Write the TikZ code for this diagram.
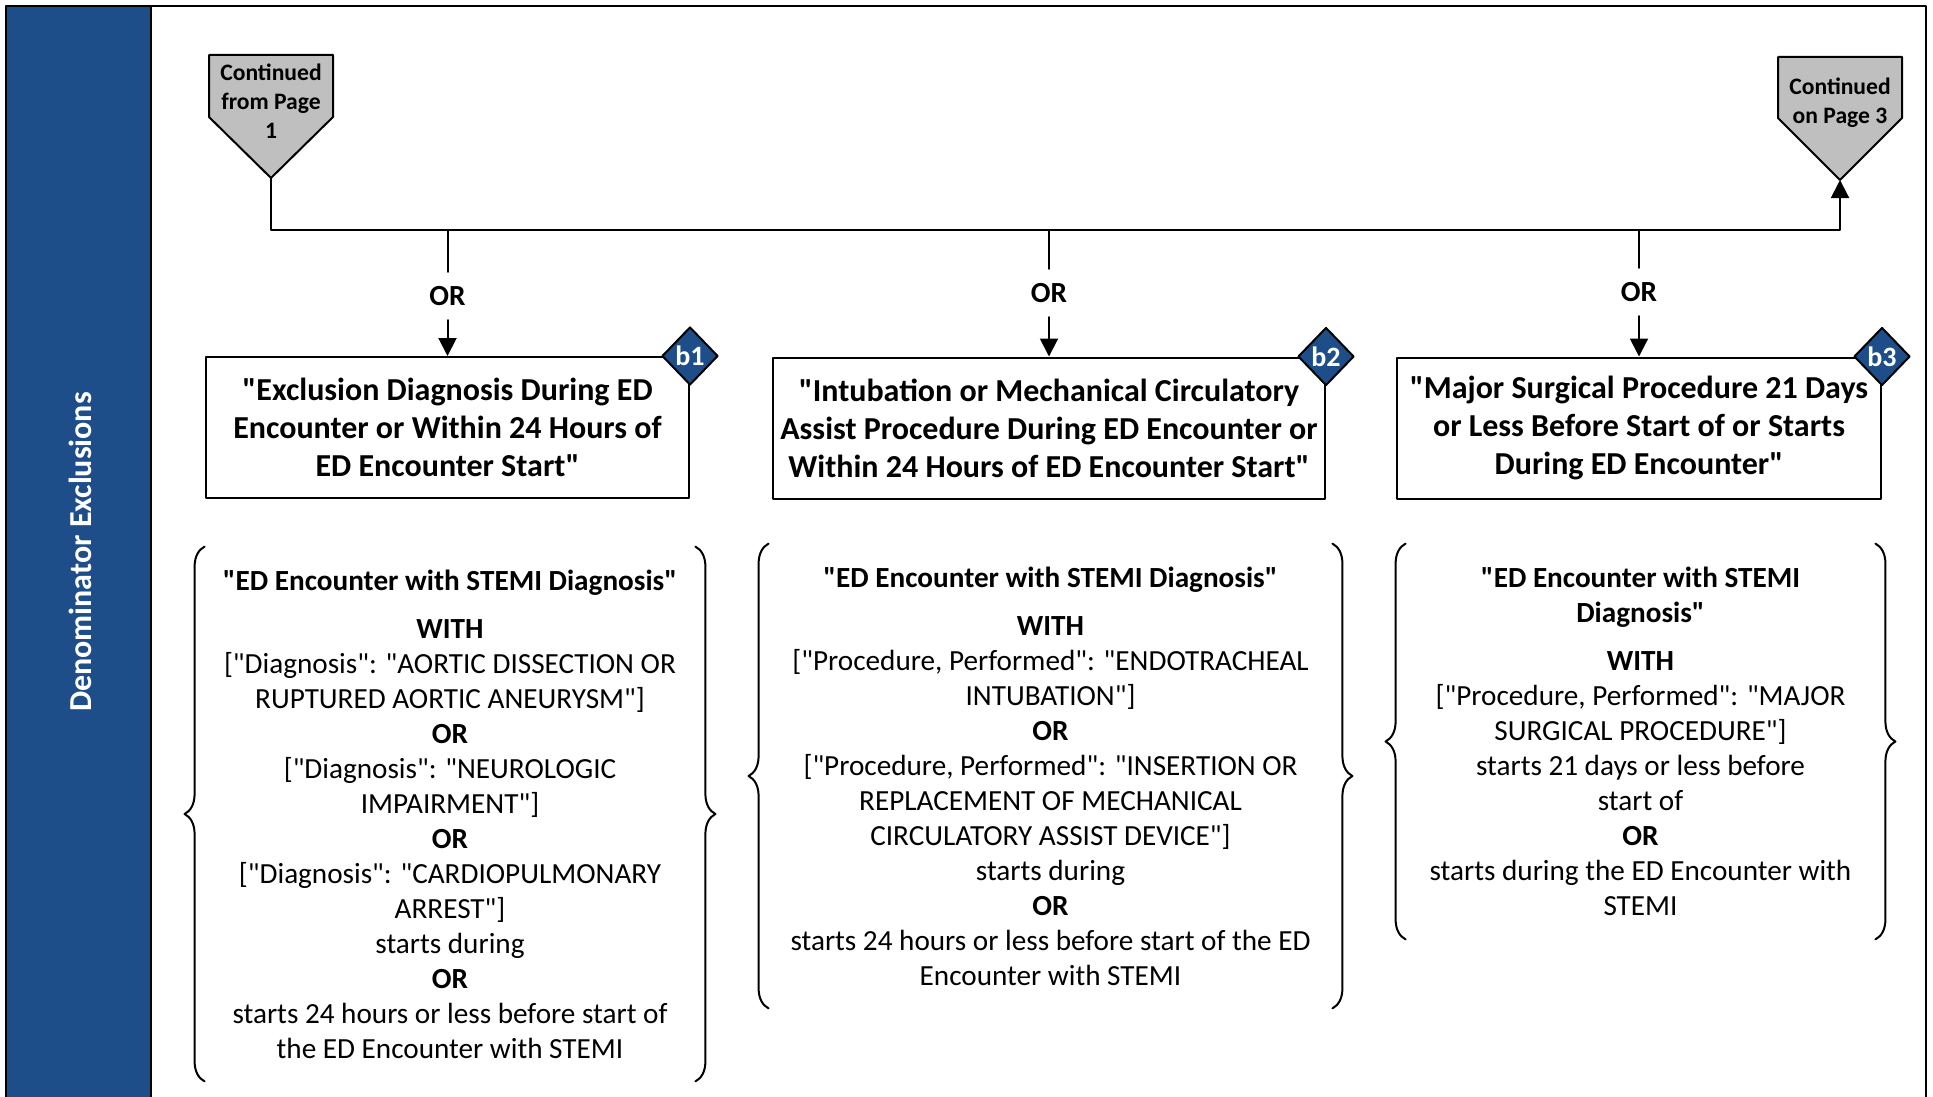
\documentclass[tikz,border=0pt]{standalone}
\usepackage{fontspec}
\setmainfont{Carlito}[Ligatures=TeXOff]
\usetikzlibrary{arrows.meta,shapes.geometric,decorations.pathreplacing}
\definecolor{bandblue}{RGB}{30,78,138}
\definecolor{offgray}{RGB}{191,191,191}
\begin{document}
\begin{tikzpicture}[line cap=round,line join=round,x=.5pt,y=-.5pt,
		>={Triangle[length=9pt,width=9pt]},
		every node/.style={font=\fontsize{14.6}{17.5}\selectfont},
		ortext/.style={font=\fontsize{14.6}{17.5}\selectfont\bfseries,inner ysep=7pt,inner xsep=4pt},
		offpage/.style={draw,line width=1pt,fill=offgray},
		offtext/.style={align=center,font=\fontsize{11.8}{14.5}\selectfont\bfseries},
		critbox/.style={draw,line width=1pt,align=center,minimum height=70.5pt,inner sep=0pt,font=\fontsize{16}{19}\selectfont\bfseries},
		tag/.style={diamond,draw,line width=1pt,fill=bandblue,text=white,inner sep=0pt,minimum width=28pt,minimum height=29pt,font=\fontsize{14}{16}\selectfont\bfseries},
		group/.style={align=center,inner sep=0pt},
		sidebrace/.style={decorate,decoration={brace,amplitude=10pt},line width=1pt}]
		\useasboundingbox (0,0) rectangle (1933,1097);
		\fill[bandblue] (6,6) rectangle (151,1097);
		\draw[line width=1pt] (6,1097) -- (6,6) -- (1926,6) -- (1926,1097);
		\draw[line width=1pt] (151,6) -- (151,1097);
		\node[rotate=90,text=white,font=\fontsize{16}{19}\selectfont\bfseries] (band) at (80,552) {Denominator Exclusions};
		% off-page connectors
		\draw[offpage] (209,55) -- (333,55) -- (333,117) -- (271,178) -- (209,117) -- cycle;
		\node[offtext] (frompg1) at (271,101) {Continued\\from Page\\1};
		\coordinate (fromtip) at (271,178);
		\draw[offpage] (1778,57) -- (1902,57) -- (1902,118) -- (1840,180) -- (1778,118) -- cycle;
		\node[offtext] (onpg3) at (1840,103) {Continued\\on Page 3};
		\coordinate (ontip) at (1840,180);
		\coordinate (barl) at (271,230);
		\coordinate (barr) at (1840,230);
		\draw[->,line width=1pt] (fromtip) -- (barl) -- (barr) -- (ontip);
		% criteria boxes
		\node[critbox,minimum width=241.5pt] (excl) at (447.5,427.5) {"Exclusion Diagnosis During ED\\Encounter or Within 24 Hours of\\ED Encounter Start"};
		\node[critbox,minimum width=276pt] (intub) at (1049,428) {"Intubation or Mechanical Circulatory\\Assist Procedure During ED Encounter or\\Within 24 Hours of ED Encounter Start"};
		\node[critbox,minimum width=242pt] (surg) at (1639,428) {"Major Surgical Procedure 21 Days\\or Less Before Start of or Starts\\During ED Encounter"};
		\node[tag] (b1) at (excl.north east) {b1};
		\node[tag] (b2) at (intub.north east) {b2};
		\node[tag] (b3) at (surg.north east) {b3};
		\node[ortext] (or1) at (447.5,296) {OR};
		\node[ortext] (or2) at (1049,293) {OR};
		\node[ortext] (or3) at (1639,292) {OR};
		\draw[line width=1pt] (excl.north |- barl) -- (or1);
		\draw[line width=1pt] (intub.north |- barl) -- (or2);
		\draw[line width=1pt] (surg.north |- barl) -- (or3);
		\draw[->,line width=1pt] (or1) -- (excl);
		\draw[->,line width=1pt] (or2) -- (intub);
		\draw[->,line width=1pt] (or3) -- (surg);
		% definitions
		\node[group,minimum width=245pt,minimum height=267pt] (def1) at (450,814) {\textbf{"ED Encounter with STEMI Diagnosis"}\\[6.5pt]
			\textbf{WITH}\\ {[}"Diagnosis": "AORTIC DISSECTION OR\\ RUPTURED AORTIC ANEURYSM"]\\ \textbf{OR}\\
			{[}"Diagnosis": "NEUROLOGIC\\ IMPAIRMENT"]\\ \textbf{OR}\\ {[}"Diagnosis": "CARDIOPULMONARY\\ ARREST"]\\
			starts during\\ \textbf{OR}\\ starts 24 hours or less before start of\\ the ED Encounter with STEMI};
		\node[group,minimum width=281.5pt,minimum height=232pt] (def2) at (1050.5,776) {\textbf{"ED Encounter with STEMI Diagnosis"}\\[6.5pt]
			\textbf{WITH}\\ {[}"Procedure, Performed": "ENDOTRACHEAL\\ INTUBATION"]\\ \textbf{OR}\\
			{[}"Procedure, Performed": "INSERTION OR\\ REPLACEMENT OF MECHANICAL\\ CIRCULATORY ASSIST DEVICE"]\\
			starts during\\ \textbf{OR}\\ starts 24 hours or less before start of the ED\\ Encounter with STEMI};
		\node[group,minimum width=234.5pt,minimum height=197.5pt] (def3) at (1640.5,741.5) {\textbf{"ED Encounter with STEMI}\\ \textbf{Diagnosis"}\\[6.5pt]
			\textbf{WITH}\\ {[}"Procedure, Performed": "MAJOR\\ SURGICAL PROCEDURE"]\\ starts 21 days or less before\\ start of\\
			\textbf{OR}\\ starts during the ED Encounter with\\ STEMI};
		\draw[sidebrace] (def1.south west) -- (def1.north west);
		\draw[sidebrace] (def1.north east) -- (def1.south east);
		\draw[sidebrace] (def2.south west) -- (def2.north west);
		\draw[sidebrace] (def2.north east) -- (def2.south east);
		\draw[sidebrace] (def3.south west) -- (def3.north west);
		\draw[sidebrace] (def3.north east) -- (def3.south east);
	\end{tikzpicture}
\end{document}
